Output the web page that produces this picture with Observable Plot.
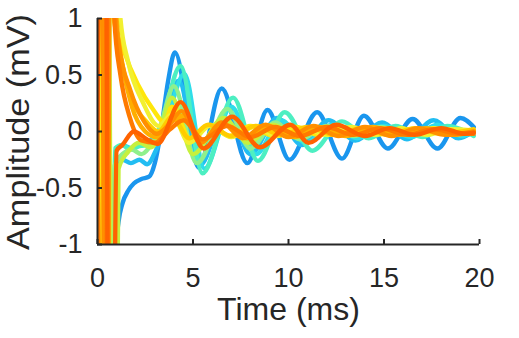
<!DOCTYPE html>
<html><head><meta charset="utf-8">
<script src="https://cdn.jsdelivr.net/npm/d3@7"></script>
<script src="https://cdn.jsdelivr.net/npm/@observablehq/plot@0.6"></script>
<style>html,body{margin:0;padding:0;background:#fff}svg{display:block}</style>
</head><body><div id="chart"></div>
<script>
const xTicks = [0, 5, 10, 15, 20];
const yTicks = [-1, -0.5, 0, 0.5, 1];
const xLabel = "Time (ms)";
const yLabel = "Amplitude (mV)";

const seriesNames = ["blue","sky","cyan","aqua","green","lime","yellow","lemon","gold","amber","orange","tangerine","dark"];
const seriesColors = ["#1A96EE","#22BDF2","#2FDDEA","#4DEFC2","#8FF08C","#C6F03E","#FFE60A","#F2F030","#FFCC00","#FFAE00","#FF8F00","#FF7A00","#FF6200"];

const blueT = [0, 0.12, 0.6, 0.99, 1.1, 1.3, 1.62, 1.9, 2.3, 2.7, 3.0, 3.3, 3.7, 4.05, 5.3, 6.5, 7.85, 8.9, 10.05, 11.5, 12.8, 13.95, 15.2, 16.5, 17.8, 19.0, 19.7];
const blueV = [0.5, 5, -5, -1, -0.8, -0.64, -0.52, -0.46, -0.42, -0.40, -0.28, -0.02, 0.45, 0.70, -0.32, 0.38, -0.28, 0.19, -0.25, 0.17, -0.24, 0.14, -0.15, 0.11, -0.15, 0.12, 0.04];

const skyT = [0, 0.08, 0.35, 0.7, 1.0, 1.3, 1.75, 2.2, 2.6, 3.1, 4.25, 5.35, 6.8, 8.0, 9.4, 10.7, 12.1, 13.5, 14.9, 16.2, 17.6, 18.9, 19.7];
const skyV = [-0.2, -5, 5, -5, -0.35, -0.25, -0.28, -0.25, -0.29, -0.15, 0.45, -0.3, 0.2, -0.2, 0.12, -0.12, 0.1, -0.08, 0.08, -0.07, 0.1, -0.06, 0.0];

const cyanT = [0, 0.3, 0.62, 0.95, 1.3, 1.8, 2.4, 3.0, 3.5, 4.55, 5.6, 7.0, 8.3, 9.6, 10.9, 12.3, 13.6, 15.0, 16.4, 17.8, 19.1, 19.7];
const cyanV = [0, 5, -5, -0.18, -0.12, -0.15, -0.1, -0.05, 0.05, 0.51, -0.33, 0.22, -0.2, 0.1, -0.1, 0.06, -0.06, 0.05, -0.05, 0.06, -0.04, 0.0];

const aquaT = [0, 0.25, 0.55, 0.92, 1.3, 1.7, 2.2, 2.7, 3.3, 4.35, 5.5, 7.1, 8.4, 9.8, 11.25, 12.8, 14.2, 15.6, 17.0, 18.3, 19.7];
const aquaV = [0, 5, -5, -0.15, -0.12, -0.16, -0.13, -0.12, 0.05, 0.58, -0.37, 0.3, -0.26, 0.17, -0.17, 0.09, -0.06, 0.05, -0.05, 0.05, -0.04];

const greenT = [0, 0.22, 0.5, 0.9, 1.3, 1.8, 2.3, 2.8, 3.2, 4.0, 5.2, 6.8, 8.0, 9.3, 10.6, 12.0, 13.4, 14.8, 16.2, 17.6, 19.0, 19.7];
const greenV = [0, 5, -5, -0.3, -0.2, -0.16, -0.2, -0.12, 0.0, 0.4, -0.28, 0.2, -0.15, 0.08, -0.07, 0.05, -0.04, 0.04, -0.03, 0.03, -0.02, 0.0];

const limeT = [0, 0.2, 0.45, 0.85, 1.1, 1.6, 2.2, 2.8, 3.2, 3.9, 5.0, 6.6, 7.9, 9.2, 10.5, 12.0, 13.5, 15.0, 16.5, 18.0, 19.7];
const limeV = [0, -5, 5, -5, -0.33, -0.18, -0.1, -0.14, -0.05, 0.3, -0.2, 0.12, -0.1, 0.06, -0.05, 0.04, -0.03, 0.03, -0.03, 0.02, 0.0];

const yellowT = [0, 0.04, 0.4, 0.84, 1.36, 2.1, 2.93, 3.5, 3.9, 4.9, 5.9, 6.9, 8.0, 9.2, 10.4, 11.6, 12.8, 14.0, 15.2, 16.4, 17.6, 18.8, 19.7];
const yellowV = [0, -5, 5, 1.0, 0.72, 0.42, 0.19, 0.08, 0.22, -0.08, 0.06, -0.04, 0.05, -0.04, 0.04, -0.03, 0.04, -0.03, 0.03, -0.03, 0.03, -0.02, 0.0];

const lemonT = [0, 0.28, 0.6, 1.2, 1.6, 2.4, 3.2, 3.9, 4.8, 5.9, 7.0, 8.2, 9.4, 10.7, 12.0, 13.3, 14.6, 15.9, 17.2, 18.5, 19.7];
const lemonV = [0, -5, 5, 1.0, 0.62, 0.25, 0.05, 0.15, -0.1, 0.05, -0.05, 0.04, -0.04, 0.03, -0.03, 0.04, -0.03, 0.03, -0.03, 0.02, 0.01];

const goldT = [0, 0.3, 0.55, 0.95, 1.3, 1.9, 2.6, 3.2, 3.9, 4.8, 5.8, 7.0, 8.3, 9.6, 11.0, 12.4, 13.8, 15.2, 16.6, 18.0, 19.7];
const goldV = [0, -5, 5, 1.0, 0.58, 0.25, 0.08, 0.0, 0.13, -0.06, 0.06, -0.04, 0.05, -0.03, 0.04, -0.03, 0.03, -0.03, 0.03, -0.02, 0.02];

const amberT = [0, 0.25, 0.5, 0.7, 1.0, 1.3, 1.8, 2.5, 3.1, 3.7, 4.5, 5.5, 6.6, 7.8, 9.0, 10.3, 11.6, 13.0, 14.4, 15.8, 17.2, 18.6, 19.7];
const amberV = [0, 5, -5, 5, 1.0, 0.6, 0.22, 0.0, -0.05, 0.06, 0.14, -0.08, 0.07, -0.06, 0.05, -0.05, 0.04, -0.04, 0.04, -0.03, 0.03, -0.03, 0.0];

const orangeT = [0, 0.15, 0.45, 0.72, 0.95, 1.1, 1.73, 2.4, 3.1, 3.7, 4.4, 5.4, 6.5, 7.6, 8.8, 10.0, 11.3, 12.6, 14.0, 15.4, 16.8, 18.2, 19.7];
const orangeV = [0, 5, -5, 5, 1.0, 0.78, 0.36, 0.1, -0.02, 0.05, 0.18, -0.1, 0.08, -0.06, 0.06, -0.05, 0.05, -0.04, 0.04, -0.04, 0.03, -0.03, 0.0];

const tangT = [0, 0.35, 0.65, 0.88, 1.2, 1.7, 2.3, 3.0, 3.8, 4.5, 5.5, 6.8, 8.0, 9.3, 10.6, 12.0, 13.4, 14.8, 16.2, 17.6, 19.0, 19.7];
const tangV = [0, -5, 5, 1.0, 0.5, 0.12, -0.08, -0.1, 0.02, 0.1, -0.07, 0.05, -0.05, 0.04, -0.04, 0.04, -0.03, 0.03, -0.03, 0.02, -0.02, -0.02];

const darkT = [0, 0.3, 0.7, 1.0, 1.3, 1.9, 2.6, 3.15, 4.35, 5.55, 7.05, 8.5, 10.1, 11.05, 12.5, 14.0, 15.3, 16.6, 18.0, 19.2, 19.7];
const darkV = [0, 5, -5, -0.17, -0.12, 0.0, -0.07, -0.11, 0.26, -0.15, 0.13, -0.14, 0.06, -0.1, 0.06, -0.04, 0.03, -0.03, 0.03, -0.02, -0.01];

const seriesData = [
  [blueT, blueV], [skyT, skyV], [cyanT, cyanV], [aquaT, aquaV], [greenT, greenV],
  [limeT, limeV], [yellowT, yellowV], [lemonT, lemonV], [goldT, goldV], [amberT, amberV],
  [orangeT, orangeV], [tangT, tangV], [darkT, darkV]
];

const rows = [];
seriesData.forEach(([T, V], k) => T.forEach((t, i) => rows.push({series: seriesNames[k], t, v: V[i]})));

const ink = "#262626";
const fontFamily = "'Liberation Sans', Arial, Helvetica, sans-serif";
const chart = Plot.plot({
  width: 519, height: 338,
  marginLeft: 97, marginRight: 40, marginTop: 18, marginBottom: 94,
  style: {fontFamily, color: ink, background: "#fff", overflow: "visible"},
  x: {domain: [0, 20]},
  y: {domain: [-1, 1]},
  color: {domain: seriesNames, range: seriesColors},
  marks: [
    Plot.line(rows, {x: "t", y: "v", z: "series", stroke: "series", strokeWidth: 4.4, curve: "monotone-x", clip: true, strokeLinejoin: "round", strokeLinecap: "round"}),
    Plot.ruleX([0], {stroke: ink, strokeWidth: 2}),
    Plot.ruleY([-1], {stroke: ink, strokeWidth: 2}),
    Plot.axisX({ticks: xTicks, tickSize: -5, strokeWidth: 2, stroke: ink, tickFormat: () => "", label: null}),
    Plot.axisY({ticks: yTicks, tickSize: -5, strokeWidth: 2, stroke: ink, tickFormat: () => "", label: null}),
    Plot.axisX({ticks: xTicks, tickSize: 0, tickPadding: 23, fontSize: 27, fill: ink, tickFormat: d => String(d), label: null}),
    Plot.axisY({ticks: yTicks, tickSize: 0, tickPadding: 15, fontSize: 27, fill: ink, tickFormat: d => String(d), label: null}),
    Plot.text([xLabel], {frameAnchor: "bottom", dy: 53, lineAnchor: "top", fontSize: 32, fill: ink})
  ]
});
d3.select(chart).append("text")
  .attr("transform", "translate(29,132) rotate(-90)")
  .attr("text-anchor", "middle")
  .attr("font-family", fontFamily)
  .attr("font-size", 32)
  .attr("textLength", 236)
  .attr("lengthAdjust", "spacingAndGlyphs")
  .attr("fill", ink)
  .text(yLabel);
document.getElementById("chart").appendChild(chart);
</script>
</body></html>
